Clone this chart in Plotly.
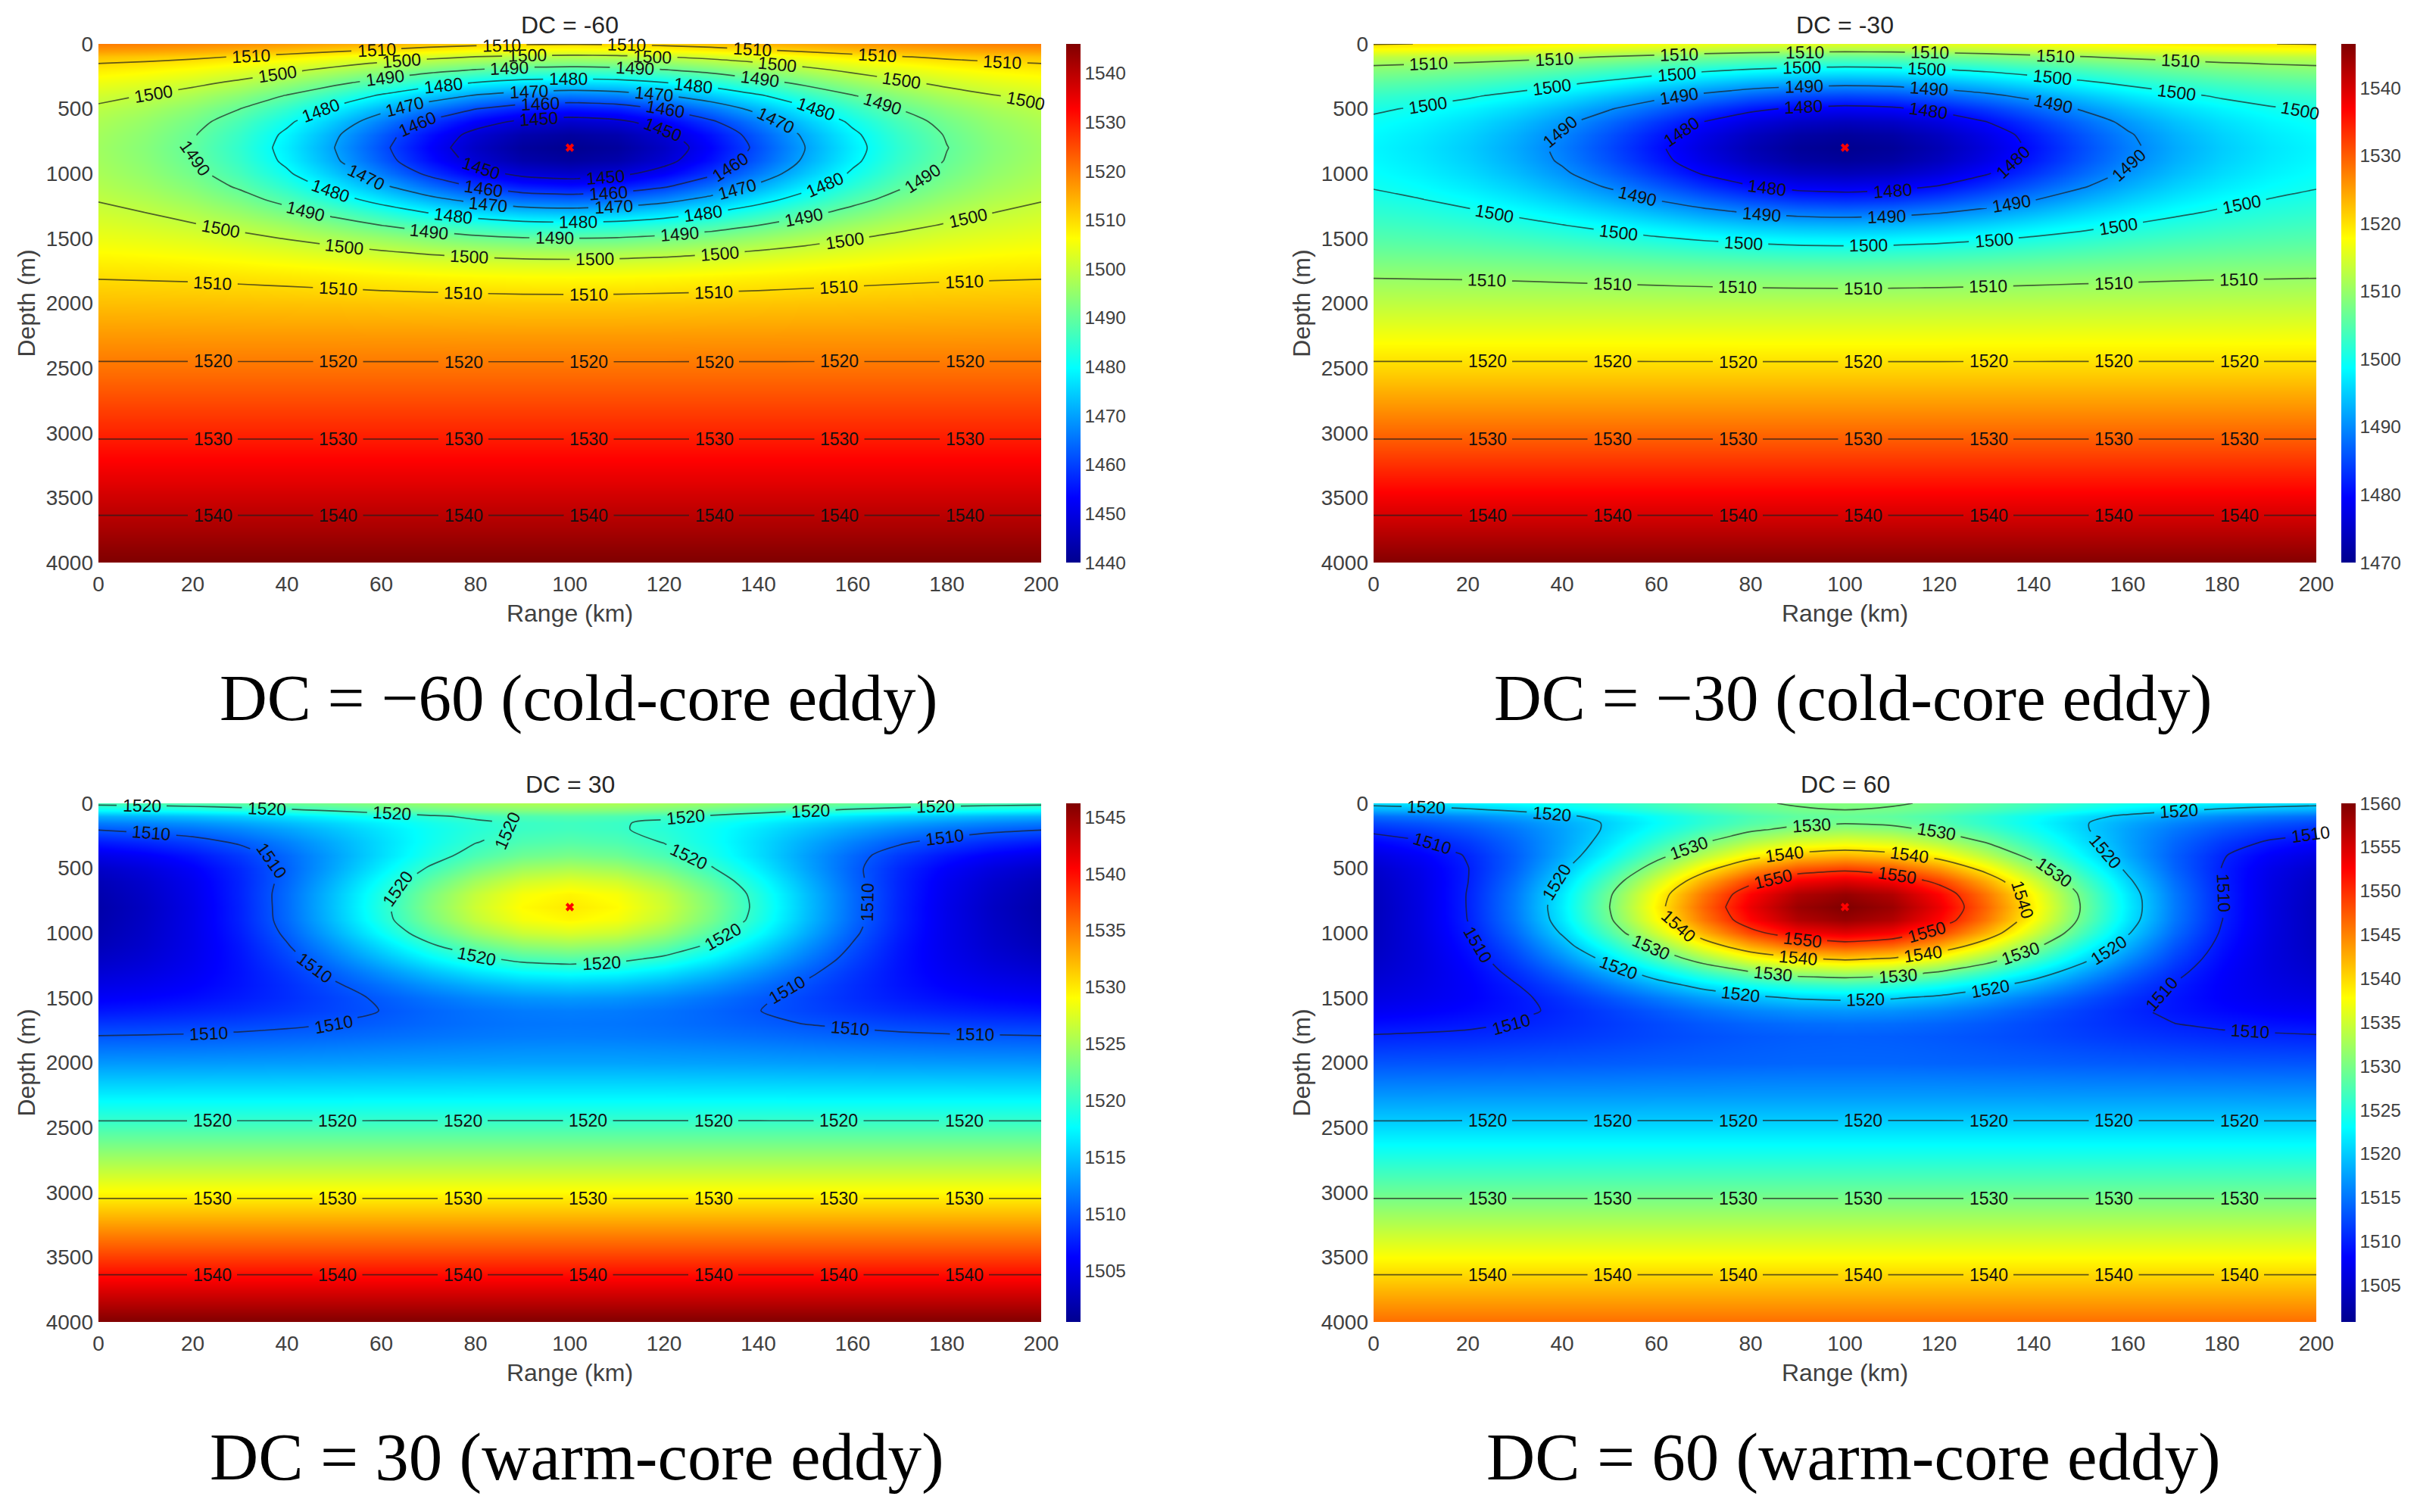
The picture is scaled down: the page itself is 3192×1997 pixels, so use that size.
import math
import numpy as np
import plotly.graph_objects as go

# ---------- data ----------
range_km = [0, 10, 20, 30, 40, 50, 60, 70, 80, 90, 100,
            110, 120, 130, 140, 150, 160, 170, 180, 190, 200]
depth_m = [0, 50, 100, 150, 200, 300, 400, 500, 600, 700, 800, 900, 1000, 1100, 1200,
           1300, 1400, 1500, 1600, 1700, 1800, 2000, 2250, 2500, 3000, 3500, 4000]
# sound speed outside the eddy, by depth
background = [1520.5, 1517.4, 1513.6, 1511.2, 1509.5, 1506.5, 1503.8, 1502.0, 1500.9, 1500.3,
              1500.0, 1500.2, 1500.6, 1501.2, 1502.1, 1503.1, 1504.2, 1505.4, 1506.8, 1508.4,
              1510.0, 1513.0, 1516.9, 1520.8, 1529.2, 1537.7, 1546.2]
# share of DC felt at each depth (rows) and range 0-100 km (columns); the eddy mirrors about 100 km
eddy_share = [
    [.010, .018, .029, .043, .062, .084, .108, .132, .151, .164, .169],
    [.013, .022, .035, .054, .077, .105, .135, .164, .188, .204, .210],
    [.016, .027, .043, .066, .094, .128, .164, .199, .229, .249, .256],
    [.019, .032, .052, .079, .114, .154, .198, .241, .277, .301, .309],
    [.023, .039, .062, .094, .135, .184, .236, .287, .329, .358, .368],
    [.031, .052, .084, .128, .184, .249, .320, .389, .447, .486, .499],
    [.040, .067, .108, .164, .236, .320, .411, .499, .574, .624, .641],
    [.048, .082, .132, .199, .287, .389, .499, .607, .697, .758, .779],
    [.055, .094, .151, .229, .329, .447, .574, .697, .801, .871, .895],
    [.060, .102, .164, .249, .358, .486, .624, .758, .871, .947, .973],
    [.062, .105, .169, .256, .368, .499, .641, .779, .895, .973, 1.00],
    [.060, .102, .164, .249, .358, .486, .624, .758, .871, .947, .973],
    [.055, .094, .151, .229, .329, .447, .574, .697, .801, .871, .895],
    [.048, .082, .132, .199, .287, .389, .499, .607, .697, .758, .779],
    [.040, .067, .108, .164, .236, .320, .411, .499, .574, .624, .641],
    [.031, .052, .084, .128, .184, .249, .320, .389, .447, .486, .499],
    [.023, .039, .062, .094, .135, .184, .236, .287, .329, .358, .368],
    [.016, .027, .043, .066, .094, .128, .164, .199, .229, .249, .256],
    [.010, .018, .029, .043, .062, .084, .108, .132, .151, .164, .169],
    [.007, .011, .018, .027, .039, .052, .067, .082, .094, .102, .105],
    [.004, .007, .010, .016, .023, .031, .040, .048, .055, .060, .062],
    [.001, .002, .003, .005, .007, .009, .012, .014, .016, .018, .018],
    [.000, .000, .001, .001, .001, .001, .002, .002, .003, .003, .003],
    [.000, .000, .000, .000, .000, .000, .000, .000, .000, .000, .000],
    [.000, .000, .000, .000, .000, .000, .000, .000, .000, .000, .000],
    [.000, .000, .000, .000, .000, .000, .000, .000, .000, .000, .000],
    [.000, .000, .000, .000, .000, .000, .000, .000, .000, .000, .000],
]
dc_values = [-60, -30, 30, 60]
titles = ["DC = -60", "DC = -30", "DC = 30", "DC = 60"]
captions = ["DC = \u221260 (cold-core eddy)", "DC = \u221230 (cold-core eddy)",
            "DC = 30 (warm-core eddy)", "DC = 60 (warm-core eddy)"]
color_min = [1440, 1470, 1500.5, 1500.8]
color_max = [1546, 1546.5, 1546.2, 1560]
contour_levels = [
    [1450, 1460, 1470, 1480, 1490, 1500, 1510, 1520, 1530, 1540],
    [1480, 1490, 1500, 1510, 1520, 1530, 1540],
    [1510, 1520, 1530, 1540],
    [1510, 1520, 1530, 1540, 1550],
]
colorbar_ticks = [
    [1440, 1450, 1460, 1470, 1480, 1490, 1500, 1510, 1520, 1530, 1540],
    [1470, 1480, 1490, 1500, 1510, 1520, 1530, 1540],
    [1505, 1510, 1515, 1520, 1525, 1530, 1535, 1540, 1545],
    [1505, 1510, 1515, 1520, 1525, 1530, 1535, 1540, 1545, 1550, 1555, 1560],
]
x_ticks = [0, 20, 40, 60, 80, 100, 120, 140, 160, 180, 200]
y_ticks = [0, 500, 1000, 1500, 2000, 2500, 3000, 3500, 4000]

# ---------- layout in page pixels ----------
W, H = 3192, 1997
boxes = [(130, 1375, 58, 743), (1814, 3059, 58, 743),
         (130, 1375, 1061, 1746), (1814, 3059, 1061, 1746)]
caption_xy = [(764, 922), (2447, 922), (762, 1924), (2448, 1924)]
caption_size = [87, 87, 89, 89]
title_y = [33, 33, 1036, 1036]
bar_x = [1408, 3092, 1408, 3092]
LABEL_STEP = 165.5   # page pixels between labels along a contour
LABEL_GAP = 33       # half the gap left in the line for a label
# arc length of the first label on each path of each level, paths ordered by where they start
label_phase = [
    {1450: [50], 1460: [140], 1470: [60], 1480: [100], 1490: [15],
     1500: [74, 165], 1510: [202, 151], 1520: [151], 1530: [151], 1540: [151]},
    {1480: [150], 1490: [140], 1500: [73, 163], 1510: [73, 150],
     1520: [150], 1530: [150], 1540: [150]},
    {1510: [70, 128], 1520: [57, 150], 1530: [150], 1540: [150]},
    {1510: [79, 8], 1520: [70, 150], 1530: [150, 80, 9999], 1540: [150, 32], 1550: [115]},
]
# number of labels the reference shows on the longer paths: (panel, level, path) -> count
label_count = {
    (0, 1450, 0): 4, (0, 1460, 0): 6, (0, 1470, 0): 8, (0, 1480, 0): 11, (0, 1490, 0): 12,
    (1, 1480, 0): 6, (1, 1490, 0): 10, (1, 1510, 0): 7,
    (2, 1510, 0): 5, (2, 1510, 1): 5, (2, 1520, 0): 12,
    (3, 1510, 0): 3, (3, 1510, 1): 4, (3, 1520, 0): 10,
    (3, 1530, 1): 8, (3, 1540, 1): 6, (3, 1550, 0): 4,
}

jet = [[0, "rgb(0,0,143)"], [.125, "rgb(0,0,255)"], [.375, "rgb(0,255,255)"],
       [.625, "rgb(255,255,0)"], [.875, "rgb(255,0,0)"], [1, "rgb(128,0,0)"]]
TEXT = "#404040"
SANS = "Liberation Sans"


def contour_paths(xs, ys, field, level):
    """Marching squares over the value grid; returns paths as (points, closed)."""
    f = field - level - 1e-7
    ny, nx = f.shape
    pts, nbr = {}, {}

    def edge(k):
        kind, i, j = k
        a, b = f[i, j], (f[i, j + 1] if kind == "h" else f[i + 1, j])
        if a * b >= 0:
            return False
        if k not in pts:
            t = a / (a - b)
            pts[k] = ((xs[j] + t * (xs[j + 1] - xs[j]), ys[i]) if kind == "h"
                      else (xs[j], ys[i] + t * (ys[i + 1] - ys[i])))
            nbr.setdefault(k, [])
        return True

    for i in range(ny - 1):
        for j in range(nx - 1):
            hit = [k for k in (("h", i, j), ("v", i, j + 1), ("h", i + 1, j), ("v", i, j)) if edge(k)]
            for a, b in zip(hit[0::2], hit[1::2]):
                nbr[a].append(b)
                nbr[b].append(a)

    def walk(start):
        out, prev, cur = [start], None, start
        while True:
            nxt = [n for n in nbr[cur] if n != prev]
            if not nxt or nxt[0] == start or nxt[0] in seen:
                return out, bool(nxt) and nxt[0] == start
            prev, cur = cur, nxt[0]
            seen.add(cur)
            out.append(cur)

    seen, paths = set(), []
    for k in sorted((k for k in nbr if len(nbr[k]) == 1), key=lambda k: pts[k]):
        if k not in seen:
            seen.add(k)
            keys, _ = walk(k)
            paths.append(([pts[q] for q in keys], False))
    for k in sorted(nbr, key=lambda k: pts[k]):
        if k not in seen:
            seen.add(k)
            keys, _ = walk(k)
            p = [pts[q] for q in keys]
            if p[1][1] < p[0][1]:           # go down from the left-most point
                p = [p[0]] + p[1:][::-1]
            paths.append((p + [p[0]], True))
    paths.sort(key=lambda q: q[0][0])
    return paths


share = np.array(eddy_share)
share = np.hstack([share, share[:, -2::-1]])
base = np.array(background)[:, None]
xs_grid, ys_grid = np.array(range_km, float), np.array(depth_m, float)

fig = go.Figure()
annotations = []
for i, dc in enumerate(dc_values):
    ax = "" if i == 0 else str(i + 1)
    x0, x1, y0, y1 = boxes[i]
    sx, sy = (x1 - x0) / 200, (y1 - y0) / 4000
    z = base + dc * share
    fig.add_trace(go.Contour(
        x=range_km, y=depth_m, z=z, xaxis="x" + ax, yaxis="y" + ax,
        colorscale=jet, zmin=color_min[i], zmax=color_max[i],
        contours=dict(coloring="heatmap", showlines=False, showlabels=False),
        line=dict(width=0), hoverinfo="skip",
        colorbar=dict(x=bar_x[i] / W, xanchor="left", xpad=0, ypad=0,
                      y=1 - (y0 + y1) / 2 / H, yanchor="middle", len=(y1 - y0) / H,
                      thickness=19, outlinewidth=0, ticks="", tickmode="array",
                      tickvals=colorbar_ticks[i], tickfont=dict(family=SANS, size=24.5, color=TEXT)),
    ))
    line_x, line_y = [], []
    for level in contour_levels[i]:
        phases = label_phase[i].get(level, [])
        for n, (path, closed) in enumerate(contour_paths(xs_grid, ys_grid, z, level)):
            px = np.array([p[0] for p in path])
            py = np.array([p[1] for p in path])
            seg = np.hypot(np.diff(px) * sx, np.diff(py) * sy)
            s = np.concatenate([[0], np.cumsum(seg)])
            total = s[-1]
            phase = phases[n] if n < len(phases) else 150
            limit = label_count.get((i, level, n), 99)
            centres = []
            at = phase
            while at <= total and len(centres) < limit:
                centres.append(at)
                at += LABEL_STEP
            gaps = []
            for c in centres:
                gaps.append((c - LABEL_GAP, c + LABEL_GAP))
                if closed:
                    gaps.append((c - LABEL_GAP + total, c + LABEL_GAP + total))
                    gaps.append((c - LABEL_GAP - total, c + LABEL_GAP - total))
                cx, cy = np.interp(c, s, px), np.interp(c, s, py)
                ax0, ay0 = np.interp(c - 30, s, px), np.interp(c - 30, s, py)
                ax1, ay1 = np.interp(c + 30, s, px), np.interp(c + 30, s, py)
                ang = math.degrees(math.atan2((ay1 - ay0) * sy, (ax1 - ax0) * sx))
                if ang > 90:
                    ang -= 180
                if ang <= -90:
                    ang += 180
                annotations.append(dict(
                    text=str(level), x=float(cx), y=float(cy), xref="x" + ax, yref="y" + ax,
                    showarrow=False, textangle=ang, xanchor="center", yanchor="middle",
                    borderpad=0, font=dict(family=SANS, size=23, color="#111111")))
            marks = sorted(set(s.tolist()) | {e for g in gaps for e in g if 0 <= e <= total})
            drawn = False
            for m in marks:
                if any(a < m < b for a, b in gaps):
                    if drawn:
                        line_x.append(None)
                        line_y.append(None)
                        drawn = False
                    continue
                line_x.append(float(np.interp(m, s, px)))
                line_y.append(float(np.interp(m, s, py)))
                drawn = True
                if any(m == a for a, b in gaps):
                    line_x.append(None)
                    line_y.append(None)
                    drawn = False
            line_x.append(None)
            line_y.append(None)
    fig.add_trace(go.Scatter(
        x=line_x, y=line_y, mode="lines", xaxis="x" + ax, yaxis="y" + ax,
        line=dict(color="rgba(30,30,30,0.7)", width=1.7, shape="spline", smoothing=0.8),
        connectgaps=False, showlegend=False, hoverinfo="skip"))
    fig.add_trace(go.Scatter(
        x=[range_km[10]], y=[depth_m[10]], mode="markers", xaxis="x" + ax, yaxis="y" + ax,
        marker=dict(symbol="x", size=10, color="red", line=dict(width=0)),
        showlegend=False, hoverinfo="skip"))
    fig.layout["xaxis" + ax] = dict(
        domain=[x0 / W, x1 / W], anchor="y" + ax, range=[0, 200], showgrid=False, zeroline=False,
        tickmode="array", tickvals=x_ticks, ticks="", ticklabelstandoff=9,
        tickfont=dict(family=SANS, size=28, color=TEXT),
        title=dict(text="Range (km)", font=dict(family=SANS, size=32, color=TEXT), standoff=12))
    fig.layout["yaxis" + ax] = dict(
        domain=[1 - y1 / H, 1 - y0 / H], anchor="x" + ax, range=[4000, 0], showgrid=False, zeroline=False,
        tickmode="array", tickvals=y_ticks, ticks="", ticklabelstandoff=6,
        tickfont=dict(family=SANS, size=28, color=TEXT),
        title=dict(text="Depth (m)", font=dict(family=SANS, size=32, color=TEXT), standoff=4))
    annotations.append(dict(text=titles[i], xref="paper", yref="paper", showarrow=False,
                            x=(x0 + x1) / 2 / W, y=1 - title_y[i] / H, xanchor="center", yanchor="middle",
                            font=dict(family=SANS, size=32, color="#262626")))
    annotations.append(dict(text=captions[i], xref="paper", yref="paper", showarrow=False,
                            x=caption_xy[i][0] / W, y=1 - caption_xy[i][1] / H, xanchor="center", yanchor="middle",
                            font=dict(family="Liberation Serif", size=caption_size[i], color="black")))

fig.update_layout(width=W, height=H, autosize=False,
                  margin=dict(l=0, r=0, t=0, b=0, autoexpand=False),
                  paper_bgcolor="white", plot_bgcolor="white", showlegend=False,
                  annotations=annotations)
fig.write_html("out.html", config={"displayModeBar": False},
               post_script="document.body.style.margin='0';")
